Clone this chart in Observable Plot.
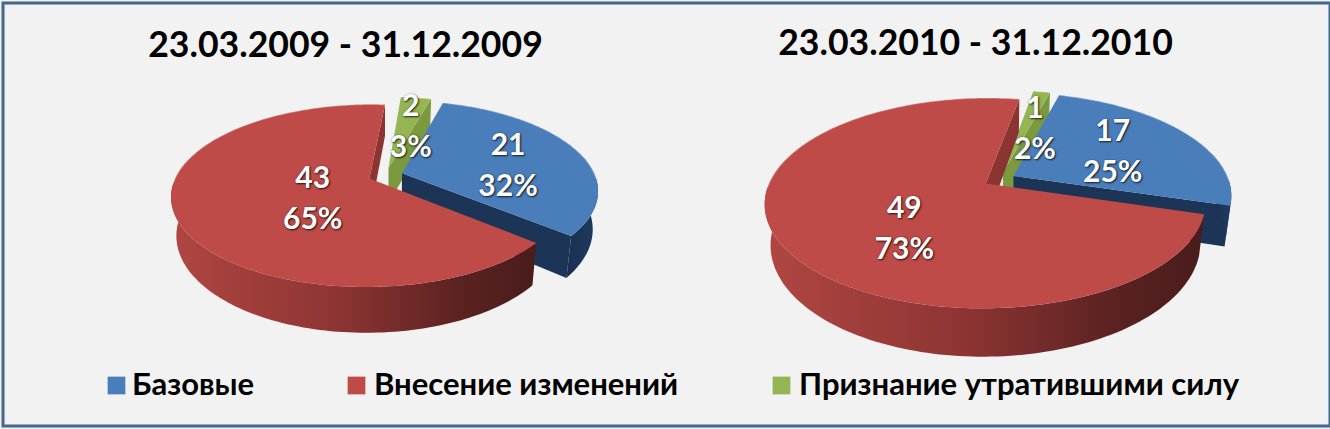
<!DOCTYPE html>
<html><head><meta charset="utf-8">
<script src="https://cdn.jsdelivr.net/npm/d3@7"></script>
<script src="https://cdn.jsdelivr.net/npm/@observablehq/plot@0.6"></script>
<style>
html,body{margin:0;padding:0;background:#f2f2f2}
svg{display:block}
.lbl{text-shadow:1px 1px 2px rgba(0,0,0,.75),0 0 2px rgba(0,0,0,.35)}
</style></head><body>
<script>
// ---- data
const categories = ["Базовые", "Внесение изменений", "Признание утратившими силу"];
const periods = ["23.03.2009 - 31.12.2009", "23.03.2010 - 31.12.2010"];
const values2009 = [21, 43, 2];
const values2010 = [17, 49, 1];
const percents2009 = [32, 65, 3];
const percents2010 = [25, 73, 2];
const faceColors = ["#4a7ebb", "#be4b48", "#94b552"];

// ---- layout of the two 3-D pies (not data)
const W = 1330, H = 429;
const FONT = "Lato, 'Open Sans', sans-serif";
const pies = [
  {values: values2009, percents: percents2009, cx: 385, cy: 175, rx: 193, ry: 87, p: 0.186, e: 0.09, wall: 37, first: -74.5,
   place: [[0.6, 0, 4], [0.27, -7, 7], [0.55, 6, -3]], title: [345, 45]},
  {values: values2010, percents: percents2010, cx: 999, cy: 179, rx: 215, ry: 100, p: 0.186, e: 0.075, wall: 39, first: -74.7,
   place: [[0.55, 2, -2], [0.43, 2, 18], [0.5, 11, -3]], title: [975, 43]}
];
const legendDotX = [116, 356, 781], legendTextX = [131.5, 373.5, 798.5], legendY = 385;
const wallFill = ["url(#wb)", "url(#wr)", "#76923c"];
const endWallFill = ["#1c3557", "#8c3432", "#7b9a3f"];

// ---- projected geometry derived from the values
const rad = d => d * Math.PI / 180;
function project(pie, ox, oy, a, r, drop) {
  const X = ox + r * Math.cos(a), Y = oy + r * Math.sin(a), w = 1 - pie.p * Y;
  const s = drop ? 0.975 : 1;
  return {x: pie.cx + s * pie.rx * X / w, y: pie.cy + pie.ry * Y / w + (drop ? pie.wall / w : 0)};
}
const faces = [], walls = [], endWalls = [], labels = [], rims = [];
pies.forEach((pie, pi) => {
  const total = d3.sum(pie.values);
  let start = rad(pie.first);
  pie.values.forEach((v, i) => {
    const span = v / total * 2 * Math.PI, end = start + span, mid = start + span / 2;
    const ox = pie.e * Math.cos(mid), oy = pie.e * Math.sin(mid);
    const id = `${pi}-${i}`;
    const n = Math.max(4, Math.ceil(span * 40));
    const arc = d3.range(n + 1).map(k => start + span * k / n);
    // top face
    const apex = project(pie, ox, oy, 0, 0, false);
    faces.push({...apex, id, cat: categories[i], slice: i});
    arc.forEach(a => faces.push({...project(pie, ox, oy, a, 1, false), id, cat: categories[i], slice: i}));
    // light rim along the far edge
    arc.filter(a => Math.sin(a) < 0.05).forEach(a => rims.push({...project(pie, ox, oy, a, 1, false), id, slice: i}));
    // outer wall: only the part facing the viewer
    const vis = arc.filter(a => Math.sin(a) > -0.25);
    if (vis.length > 1) {
      vis.forEach(a => walls.push({...project(pie, ox, oy, a, 1, false), id, slice: i}));
      vis.slice().reverse().forEach(a => walls.push({...project(pie, ox, oy, a, 1, true), id, slice: i}));
    }
    // radial wall at the clockwise end of the slice
    [[0, false], [1, false], [1, true], [0, true]].forEach(([r, drop]) =>
      endWalls.push({...project(pie, ox, oy, end, r, drop), id, slice: i}));
    // label
    const [f, dx, dy] = pie.place[i];
    const lp = project(pie, ox, oy, mid, f, false);
    labels.push({x: lp.x + dx, y: lp.y + dy, text: `${v}\n${pie.percents[i]}%`, slice: i});
    start = end;
  });
});

const defs = () => {
  const d = d3.create("svg:defs");
  const grad = (id, stops) => {
    const g = d.append("linearGradient").attr("id", id);
    stops.forEach(([o, c]) => g.append("stop").attr("offset", o).attr("stop-color", c));
  };
  grad("wr", [[0, "#b04642"], [0.45, "#8e3533"], [0.8, "#5a2221"], [1, "#4a1c1c"]]);
  grad("wb", [[0, "#1a3050"], [1, "#1f3a5f"]]);
  return d.node();
};

// draw order: green, blue, red
const layer = s => [
  Plot.line(endWalls.filter(d => d.slice === s), {x: "x", y: "y", z: "id", fill: endWallFill[s], stroke: "none"}),
  Plot.line(walls.filter(d => d.slice === s), {x: "x", y: "y", z: "id", fill: wallFill[s], stroke: "none"}),
  Plot.line(faces.filter(d => d.slice === s), {x: "x", y: "y", z: "id", fill: "cat", stroke: "none"}),
  Plot.line(rims.filter(d => d.slice === s), {x: "x", y: "y", z: "id", stroke: "#ffffff", strokeOpacity: 0.3, strokeWidth: 1.5})
];

const chart = Plot.plot({
  width: W, height: H, margin: 0,
  style: {background: "#f2f2f2"},
  x: {domain: [0, W], range: [0, W], axis: null},
  y: {domain: [0, H], range: [0, H], axis: null},
  color: {domain: categories, range: faceColors},
  marks: [
    defs,
    Plot.frame({stroke: "#eaf3fa", strokeWidth: 2, inset: 4}),
    Plot.frame({stroke: "#44678a", strokeWidth: 3, insetTop: 2.5, insetLeft: 2.5, insetRight: 0.5, insetBottom: 3.5}),
    ...layer(2), ...layer(0), ...layer(1),
    Plot.text(labels, {x: "x", y: "y", text: "text", fill: "#fff", fontSize: 30, fontWeight: 700, fontFamily: FONT, lineHeight: 1.37, className: "lbl"}),
    Plot.text(periods, {x: (d, i) => pies[i].title[0], y: (d, i) => pies[i].title[1], text: d => d, fill: "#000", fontSize: 35.6, fontWeight: 700, fontFamily: FONT}),
    Plot.dot(categories, {x: (d, i) => legendDotX[i], y: () => legendY, symbol: "square", r: 10, fill: d => d, stroke: "none"}),
    Plot.text(categories, {x: (d, i) => legendTextX[i], y: () => legendY, text: d => d, textAnchor: "start", fill: "#000", fontSize: 31, fontWeight: 700, fontFamily: FONT})
  ]
});
document.body.appendChild(chart);
</script>
</body></html>
